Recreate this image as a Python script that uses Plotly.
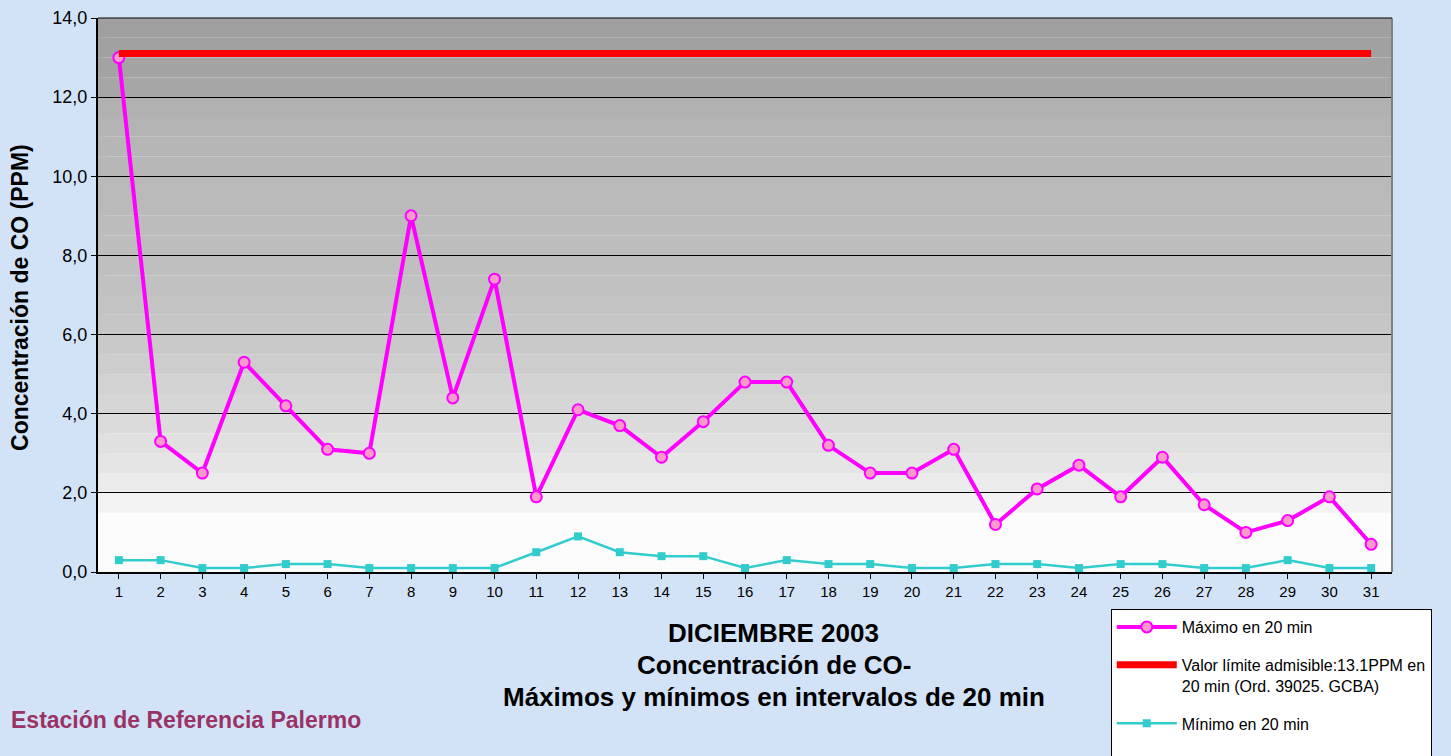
import plotly.graph_objects as go

days = list(range(1, 32))
maximo = [13.0, 3.3, 2.5, 5.3, 4.2, 3.1, 3.0, 9.0, 4.4, 7.4, 1.9, 4.1, 3.7, 2.9, 3.8, 4.8,
          4.8, 3.2, 2.5, 2.5, 3.1, 1.2, 2.1, 2.7, 1.9, 2.9, 1.7, 1.0, 1.3, 1.9, 0.7]
minimo = [0.3, 0.3, 0.1, 0.1, 0.2, 0.2, 0.1, 0.1, 0.1, 0.1, 0.5, 0.9, 0.5, 0.4, 0.4, 0.1,
          0.3, 0.2, 0.2, 0.1, 0.1, 0.2, 0.2, 0.1, 0.2, 0.2, 0.1, 0.1, 0.3, 0.1, 0.1]
limite = [13.1] * 31
y_ticks = [0, 2, 4, 6, 8, 10, 12, 14]

fig = go.Figure()

fig.add_trace(go.Scatter(
    x=days, y=maximo, mode="lines+markers", name="Máximo en 20 min",
    legendgroup="a",
    line=dict(color="#ff00ff", width=4),
    marker=dict(symbol="circle", size=11, color="#ff99cc", line=dict(color="#ff00ff", width=2)),
))
fig.add_trace(go.Scatter(
    x=days, y=limite, mode="lines",
    name="Valor límite admisible:13.1PPM en<br>20 min (Ord. 39025. GCBA)",
    legendgroup="b",
    line=dict(color="#ff0000", width=7),
))
fig.add_trace(go.Scatter(
    x=days, y=minimo, mode="lines+markers", name="Mínimo en 20 min<br> ",
    legendgroup="c",
    line=dict(color="#33cccc", width=2.5),
    marker=dict(symbol="square", size=8, color="#33cccc"),
))

# gray gradient background in plot area (style only)
grad = [
    (0.0, 1.5, "#fcfcfc"), (1.5, 2.0, "#f3f3f3"), (2.0, 2.5, "#ebebeb"), (2.5, 3.0, "#e5e5e5"),
    (3.0, 3.5, "#e0e0e0"), (3.5, 4.0, "#dbdbdb"), (4.0, 4.5, "#d6d6d6"), (4.5, 5.0, "#d2d2d2"),
    (5.0, 5.5, "#cdcdcd"), (5.5, 6.0, "#c9c9c9"), (6.0, 6.5, "#c6c6c6"), (6.5, 7.0, "#c3c3c3"),
    (7.0, 7.5, "#c1c1c1"), (7.5, 8.0, "#bfbfbf"), (8.0, 8.5, "#bdbdbd"), (8.5, 9.0, "#bcbcbc"),
    (9.0, 9.5, "#bababa"), (9.5, 10.0, "#b9b9b9"), (10.0, 10.5, "#b7b7b7"), (10.5, 11.0, "#b6b6b6"),
    (11.0, 11.5, "#b4b4b4"), (11.5, 12.0, "#b1b1b1"), (12.0, 12.5, "#a6a6a6"), (12.5, 13.0, "#a3a3a3"),
    (13.0, 13.5, "#a1a1a1"), (13.5, 14.0, "#9f9f9f"),
]
shapes = []
for y0, y1, c in grad:
    shapes.append(dict(type="rect", xref="x", yref="y", x0=0.5, x1=31.5, y0=y0, y1=y1,
                       fillcolor=c, line=dict(width=0), layer="below"))
# left darker strip and borders
shapes.append(dict(type="rect", xref="paper", yref="paper", x0=0, x1=0.006, y0=0.15, y1=1,
                   fillcolor="rgba(120,120,120,0.35)", line=dict(width=0), layer="below"))
shapes.append(dict(type="line", xref="paper", yref="paper", x0=1, x1=1, y0=0, y1=1,
                   line=dict(color="#808080", width=2)))
shapes.append(dict(type="line", xref="paper", yref="paper", x0=0, x1=1, y0=1, y1=1,
                   line=dict(color="black", width=1)))

cx = (773 - 98) / 1293
annotations = [
    dict(text="<b>DICIEMBRE 2003</b>", xref="paper", yref="paper", x=cx, xanchor="center",
         y=(572 - 633) / 554, yanchor="middle", showarrow=False,
         font=dict(size=26, color="black", family="Arial")),
    dict(text="<b>Concentración de CO-</b>", xref="paper", yref="paper", x=cx, xanchor="center",
         y=(572 - 665) / 554, yanchor="middle", showarrow=False,
         font=dict(size=26, color="black", family="Arial")),
    dict(text="<b>Máximos y mínimos en intervalos de 20 min</b>", xref="paper", yref="paper",
         x=cx, xanchor="center", y=(572 - 697) / 554, yanchor="middle", showarrow=False,
         font=dict(size=26, color="black", family="Arial")),
    dict(text="<b>Estación de Referencia Palermo</b>", xref="paper", yref="paper",
         x=(9 - 98) / 1293, xanchor="left", y=(572 - 720) / 554, yanchor="middle",
         showarrow=False, font=dict(size=23, color="#993366", family="Arial")),
    dict(text="<b>Concentración de CO (PPM)</b>", xref="paper", yref="paper",
         x=(20 - 98) / 1293, xanchor="center", y=(572 - 297) / 554, yanchor="middle",
         textangle=-90, showarrow=False,
         font=dict(size=23, color="black", family="Arial")),
]

fig.update_layout(
    width=1451, height=756,
    margin=dict(l=98, r=59, t=18, b=184, autoexpand=False),
    paper_bgcolor="#d3e3f7",
    plot_bgcolor="#ffffff",
    font=dict(family="Arial", size=14, color="black"),
    separators=",.",
    shapes=shapes,
    annotations=annotations,
    showlegend=True,
    legend=dict(
        x=(1110 - 98) / 1293, y=(572 - 609) / 554, xanchor="left", yanchor="top",
        bgcolor="white", bordercolor="black", borderwidth=1,
        font=dict(size=16, family="Arial", color="black"),
        traceorder="grouped", tracegroupgap=14, itemwidth=60, valign="top",
    ),
    xaxis=dict(
        range=[0.5, 31.5], tickmode="array", tickvals=days, ticktext=[str(d) for d in days],
        showline=True, linecolor="black", linewidth=2, ticks="outside", ticklen=5,
        tickcolor="black", showgrid=False, zeroline=False, tickfont=dict(size=15),
    ),
    yaxis=dict(
        range=[0, 14], tickmode="array", tickvals=y_ticks, tickformat=".1f",
        showline=True, linecolor="black", linewidth=2, ticks="outside", ticklen=5,
        tickcolor="black", showgrid=True, gridcolor="black", gridwidth=1, zeroline=False,
        tickfont=dict(size=18),
    ),
)

fig.write_html(
    "out.html",
    config={"displayModeBar": False},
    post_script="document.body.style.margin='0';document.body.style.background='#d3e3f7';",
)
